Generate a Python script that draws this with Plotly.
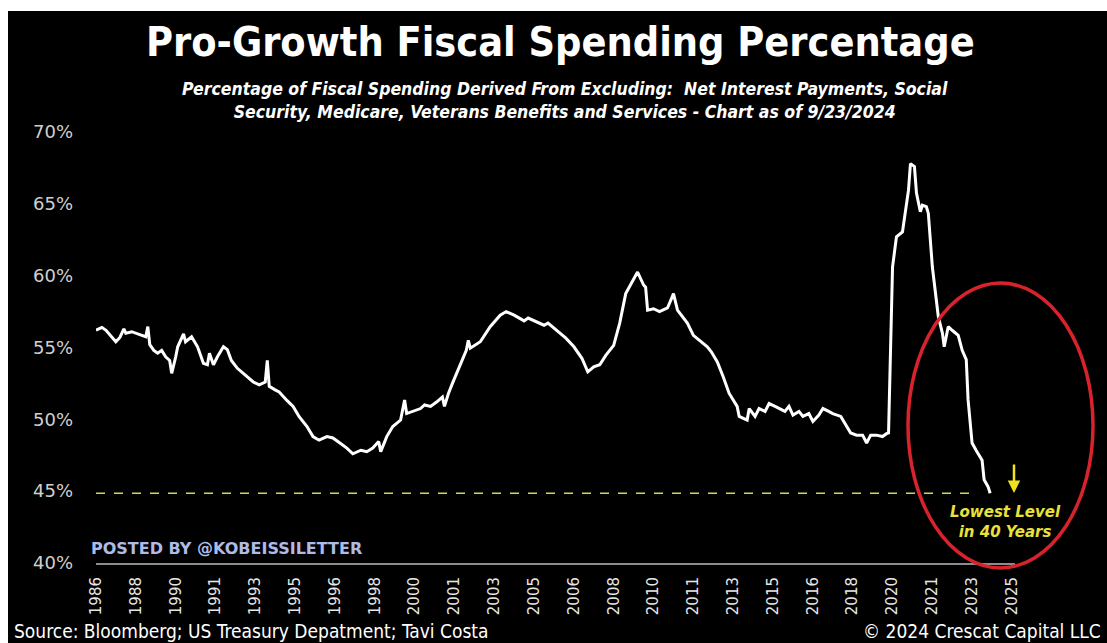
import plotly.graph_objects as go

# Pro-growth share of federal outlays (excluding net interest, Social Security,
# Medicare and veterans benefits), in percent
dates = [
    "1986-09", "1986-12", "1987-02", "1987-07", "1987-09", "1987-11", "1987-12",
    "1988-03", "1988-07", "1988-10", "1988-11", "1988-12", "1989-02", "1989-04",
    "1989-06", "1989-08", "1989-10", "1989-11", "1990-01", "1990-02", "1990-05",
    "1990-06", "1990-09", "1990-12", "1991-03", "1991-05", "1991-06", "1991-08",
    "1991-10", "1992-01", "1992-03", "1992-05", "1992-08", "1992-10", "1993-01",
    "1993-04", "1993-07", "1993-10", "1993-11", "1993-12", "1994-03", "1994-05",
    "1994-09", "1994-12", "1995-03", "1995-07", "1995-10", "1996-01", "1996-05",
    "1996-08", "1996-12", "1997-03", "1997-06", "1997-10", "1998-01", "1998-04",
    "1998-07", "1998-08", "1998-11", "1999-02", "1999-06", "1999-08", "1999-09",
    "1999-12", "2000-04", "2000-06", "2000-09", "2000-12", "2001-03", "2001-04",
    "2001-06", "2001-08", "2001-11", "2002-03", "2002-04", "2002-05", "2002-10",
    "2003-03", "2003-08", "2003-11", "2004-03", "2004-08", "2004-10", "2005-02",
    "2005-06", "2005-08", "2005-11", "2006-02", "2006-05", "2006-09", "2007-01",
    "2007-04", "2007-07", "2007-10", "2008-01", "2008-05", "2008-08", "2008-11",
    "2009-03", "2009-05", "2009-08", "2009-09", "2009-10", "2010-01", "2010-04",
    "2010-08", "2010-10", "2010-11", "2011-01", "2011-06", "2011-09", "2011-12",
    "2012-04", "2012-06", "2012-09", "2012-12", "2013-03", "2013-07", "2013-08",
    "2013-12", "2014-01", "2014-04", "2014-06", "2014-09", "2014-11", "2015-02",
    "2015-04", "2015-07", "2015-09", "2015-11", "2016-02", "2016-04", "2016-07",
    "2016-09", "2016-12", "2017-02", "2017-05", "2017-07", "2017-11", "2018-02",
    "2018-04", "2018-07", "2018-10", "2018-12", "2019-02", "2019-05", "2019-08",
    "2019-10", "2019-11", "2020-01", "2020-03", "2020-06", "2020-07", "2020-09",
    "2020-10", "2020-12", "2021-01", "2021-03", "2021-04", "2021-06", "2021-07",
    "2021-09", "2021-12", "2022-02", "2022-03", "2022-05", "2022-07", "2022-10",
    "2022-12", "2023-02", "2023-03", "2023-05", "2023-07", "2023-10", "2023-11",
    "2024-01", "2024-02",
]
pct = [
    56.2, 56.4, 56.2, 55.4, 55.7, 56.3, 56.0,
    56.1, 55.9, 55.75, 56.45, 55.2, 54.8, 54.6,
    54.8, 54.35, 54.1, 53.2, 54.35, 55.05, 55.95,
    55.4, 55.75, 55.05, 53.9, 53.8, 54.6, 53.8,
    54.35, 55.05, 54.85, 54.1, 53.55, 53.3, 52.95,
    52.6, 52.4, 52.6, 54.1, 52.3, 52.05, 51.9,
    51.3, 50.9, 50.2, 49.5, 48.8, 48.55, 48.8,
    48.7, 48.3, 48.0, 47.6, 47.85, 47.75, 48.0,
    48.45, 47.75, 48.8, 49.5, 49.95, 51.35, 50.4,
    50.55, 50.75, 51.0, 50.9, 51.2, 51.55, 50.9,
    51.8, 52.5, 53.45, 54.8, 55.5, 54.95, 55.4,
    56.45, 57.25, 57.5, 57.25, 56.85, 57.05, 56.8,
    56.55, 56.7, 56.35, 56.0, 55.65, 55.05, 54.25,
    53.3, 53.65, 53.8, 54.45, 55.15, 56.7, 58.75,
    59.7, 60.25, 59.35, 59.2, 57.6, 57.7, 57.5,
    57.75, 58.4, 58.75, 57.6, 56.7, 55.85, 55.5,
    55.05, 54.7, 54.0, 52.95, 51.8, 50.9, 50.2,
    49.95, 50.75, 50.2, 50.75, 50.55, 51.1, 50.9,
    50.75, 50.55, 50.9, 50.3, 50.55, 50.2, 50.4,
    49.85, 50.3, 50.75, 50.55, 50.4, 50.2, 49.5,
    49.05, 48.9, 48.9, 48.35, 48.9, 48.9, 48.8,
    49.0, 49.05, 60.6, 62.7, 63.05, 64.1, 65.95,
    67.8, 67.6, 65.75, 64.45, 64.9, 64.8, 64.35,
    60.6, 57.15, 56.0, 55.05, 56.45, 56.2, 55.85,
    54.8, 54.15, 51.35, 48.35, 47.85, 47.15, 45.8,
    45.3, 44.85,
]

# Date axis ticks, one every 20 months
tick_dates = [
    "1986-09-01", "1988-05-01", "1990-01-01", "1991-09-01", "1993-05-01",
    "1995-01-01", "1996-09-01", "1998-05-01", "2000-01-01", "2001-09-01",
    "2003-05-01", "2005-01-01", "2006-09-01", "2008-05-01", "2010-01-01",
    "2011-09-01", "2013-05-01", "2015-01-01", "2016-09-01", "2018-05-01",
    "2020-01-01", "2021-09-01", "2023-05-01", "2025-01-01",
]
tick_years = [
    "1986", "1988", "1990", "1991", "1993", "1995", "1996", "1998", "2000",
    "2001", "2003", "2005", "2006", "2008", "2010", "2011", "2013", "2015",
    "2016", "2018", "2020", "2021", "2023", "2025",
]
y_ticks = [40, 45, 50, 55, 60, 65, 70]
y_labels = ["40%", "45%", "50%", "55%", "60%", "65%", "70%"]

# Reference line at the latest low
low_level = min(pct)
low_span = [dates[0], "2023-08"]

W, H = 1107, 643
ML, MR, MT, MB = 96, 92, 132, 80
PW, PH = W - ML - MR, H - MT - MB


def px(x):
    return (x - ML) / PW


def py(y):
    return (H - MB - y) / PH


COND = "DejaVu Sans Condensed, Roboto, sans-serif"

fig = go.Figure()
fig.add_trace(go.Scatter(
    x=low_span, y=[low_level, low_level], mode="lines",
    line=dict(color="#d6d64e", width=1.5, dash="dash"),
    hoverinfo="skip", showlegend=False,
))
fig.add_trace(go.Scatter(
    x=dates, y=pct, mode="lines",
    line=dict(color="#ffffff", width=3),
    showlegend=False,
))

fig.update_layout(
    width=W, height=H,
    margin=dict(l=ML, r=MR, t=MT, b=MB),
    paper_bgcolor="#000000", plot_bgcolor="#000000",
    xaxis=dict(
        type="date", range=["1986-09-01", "2025-02-15"],
        tickvals=tick_dates, ticktext=tick_years, tickangle=-90,
        tickfont=dict(family="DejaVu Sans", size=15, color="#e6e6e6"),
        showgrid=False, zeroline=False, ticks="",
        showline=True, linecolor="#8c8c8c", linewidth=2,
        ticklabelstandoff=6,
    ),
    yaxis=dict(
        range=[40, 70], tickvals=y_ticks, ticktext=y_labels,
        tickfont=dict(family="DejaVu Sans", size=18, color="#d0d0d0"),
        showgrid=False, zeroline=False, ticks="", showline=False,
        ticklabelstandoff=22,
    ),
    font=dict(family="DejaVu Sans", color="#ffffff"),
)

annotations = [
    dict(x=px(560), y=py(42), text="<b>Pro-Growth Fiscal Spending Percentage</b>",
         font=dict(family=COND, size=41, color="#ffffff")),
    dict(x=px(565), y=py(101),
         text="<b><i>Percentage of Fiscal Spending Derived From Excluding:  Net Interest Payments, Social"
              "<br>Security, Medicare, Veterans Benefits and Services - Chart as of 9/23/2024</i></b>",
         font=dict(family=COND, size=17.5, color="#ffffff")),
    dict(x=px(89), y=py(548), xanchor="left", text="<b>POSTED BY @KOBEISSILETTER</b>",
         font=dict(family="DejaVu Sans", size=16, color="#aebbe6")),
    dict(x=px(12), y=py(631), xanchor="left",
         text="Source: Bloomberg; US Treasury Depatment; Tavi Costa",
         font=dict(family=COND, size=19, color="#ffffff")),
    dict(x=px(1103), y=py(631), xanchor="right", text="© 2024 Crescat Capital LLC",
         font=dict(family=COND, size=19, color="#ffffff")),
    dict(x=px(1005), y=py(522), text="<b><i>Lowest Level<br>in 40 Years</i></b>",
         font=dict(family="DejaVu Sans", size=15, color="#e8e23a")),
    dict(x=px(1014), y=py(493), text="", showarrow=True, ax=0, ay=-30,
         arrowhead=2, arrowsize=1, arrowwidth=2.5, arrowcolor="#f0e21e"),
]
for a in annotations:
    a.setdefault("xref", "paper")
    a.setdefault("yref", "paper")
    a.setdefault("xanchor", "center")
    a.setdefault("yanchor", "middle")
    a.setdefault("showarrow", False)
fig.update_layout(annotations=annotations)

shapes = [
    # red ring around the recent decline
    dict(type="circle", xref="paper", yref="paper",
         x0=px(908), x1=px(1093), y0=py(568), y1=py(283),
         line=dict(color="#d8222c", width=3.5)),
    # white frame strips along the top and left edges
    dict(type="rect", xref="paper", yref="paper", x0=px(0), x1=px(W),
         y0=py(11), y1=py(0), fillcolor="#ffffff", line=dict(width=0)),
    dict(type="rect", xref="paper", yref="paper", x0=px(0), x1=px(8),
         y0=py(H), y1=py(0), fillcolor="#ffffff", line=dict(width=0)),
]
fig.update_layout(shapes=shapes)

fig.write_html("out.html")
